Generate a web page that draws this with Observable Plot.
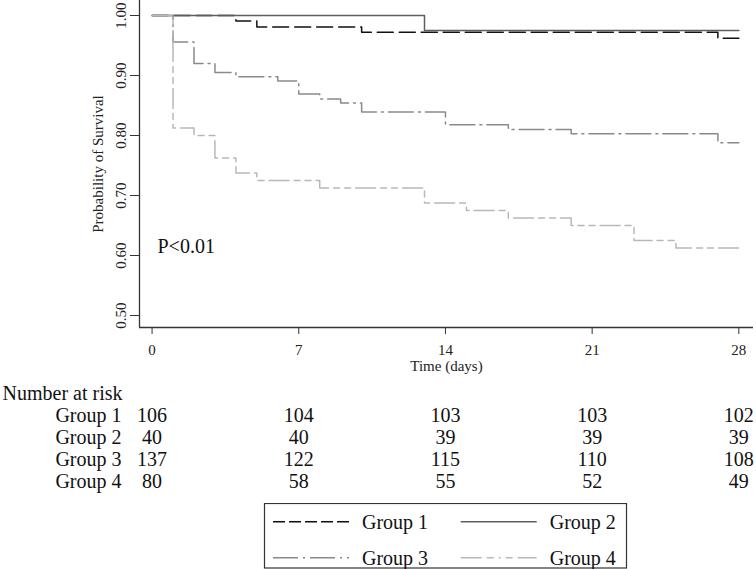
<!DOCTYPE html>
<html><head><meta charset="utf-8">
<script src="https://cdn.jsdelivr.net/npm/d3@7"></script>
<script src="https://cdn.jsdelivr.net/npm/@observablehq/plot@0.6"></script>
<style>
body{margin:0;background:#fff;}
#chart{width:756px;height:569px;overflow:hidden;background:#fff;}
#chart svg{display:block;}
</style></head><body><div id="chart"></div>
<script>
// ---- data ----
const groups = ["Group 1", "Group 2", "Group 3", "Group 4"];
const g1Time = [0, 4, 5, 10, 27, 28];
const g1Surv = [1.000, 0.991, 0.981, 0.972, 0.962, 0.962];
const g2Time = [0, 13, 28];
const g2Surv = [1.000, 0.975, 0.975];
const g3Time = [0, 1, 2, 3, 4, 6, 7, 8, 9, 10, 14, 17, 20, 27, 28];
const g3Surv = [1.000, 0.956, 0.920, 0.905, 0.898, 0.891, 0.869, 0.861, 0.854, 0.839, 0.818, 0.810, 0.803, 0.788, 0.788];
const g4Time = [0, 1, 2, 3, 4, 5, 8, 13, 15, 17, 20, 23, 25, 28];
const g4Surv = [1.000, 0.8125, 0.800, 0.7625, 0.7375, 0.725, 0.7125, 0.6875, 0.675, 0.6625, 0.650, 0.625, 0.6125, 0.6125];
const riskTimes = [0, 7, 14, 21, 28];
const risk1 = [106, 104, 103, 103, 102];
const risk2 = [40, 40, 39, 39, 39];
const risk3 = [137, 122, 115, 110, 108];
const risk4 = [80, 58, 55, 52, 49];
const xTicks = [0, 7, 14, 21, 28];
const yTicks = [0.5, 0.6, 0.7, 0.8, 0.9, 1.0];
const xTitle = "Time (days)";
const yTitle = "Probability of Survival";
const riskTitle = "Number at risk";
const pText = "P<0.01";

// ---- styles ----
const font = '"Liberation Serif","Times New Roman",serif';
const styles = {
  "Group 1": {stroke: "#111111", dash: "16,6", legendDash: "12,4"},
  "Group 2": {stroke: "#5e5e5e", dash: null, legendDash: null},
  "Group 3": {stroke: "#8a8a8a", dash: "25,5,2,5", legendDash: "25,5,2,5"},
  "Group 4": {stroke: "#b8b8b8", dash: "20,5,6,5,6,5", legendDash: "21,5,7,5,2,5,7,5"}
};
const times = [g1Time, g2Time, g3Time, g4Time];
const survs = [g1Surv, g2Surv, g3Surv, g4Surv];
const risks = [risk1, risk2, risk3, risk4];
const curveData = groups.map((g, i) => times[i].map((t, j) => ({group: g, time: t, surv: survs[i][j]})));
const riskData = groups.flatMap((g, i) => riskTimes.map((t, j) => ({group: g, time: t, n: risks[i][j]})));

const xDomain = [-0.6, 28.7];
const yDomain = [0.48, 1.025];
const W = 756, ML = 139, MR = 3;

const main = Plot.plot({
  width: W, height: 376,
  marginLeft: ML, marginRight: MR, marginTop: 0, marginBottom: 49,
  style: {fontFamily: font, fontSize: "15px", color: "#222", background: "white", overflow: "visible"},
  x: {domain: xDomain},
  y: {domain: yDomain},
  marks: [
    ...groups.map((g, i) => Plot.line(curveData[i], {
      x: "time", y: "surv", curve: "step-after",
      stroke: styles[g].stroke, strokeWidth: 1.5,
      strokeDasharray: styles[g].dash || undefined
    })),
    Plot.ruleX([xDomain[0]], {stroke: "#333", strokeWidth: 1.3}),
    Plot.ruleY([yDomain[0]], {stroke: "#333", strokeWidth: 1.3}),
    Plot.axisY({ticks: yTicks, tickFormat: d3.format(".2f"), tickRotate: -90, tickSize: 9, tickPadding: 5,
      label: null, stroke: "#333", fill: "#222", fontSize: 15}),
    Plot.axisX({ticks: xTicks, tickSize: 7, tickPadding: 10, label: null, stroke: "#333", fill: "#222", fontSize: 15}),
    Plot.text([xTitle], {frameAnchor: "bottom", dy: 43, lineAnchor: "bottom", fontSize: 15, fill: "#222"}),
    Plot.text([yTitle], {frameAnchor: "left", rotate: -90, dx: -37, lineAnchor: "bottom", textAnchor: "middle", fontSize: 15, fill: "#222"}),
    Plot.text([pText], {frameAnchor: "top-left", dx: 18, dy: 252, textAnchor: "start", lineAnchor: "bottom", fontSize: 20, fill: "#111"})
  ]
});

const rows = [riskTitle, ...groups];
const risk = Plot.plot({
  width: W, height: 127,
  marginLeft: ML, marginRight: MR, marginTop: 0, marginBottom: 0,
  style: {fontFamily: font, fontSize: "20px", color: "#111", background: "white", overflow: "visible"},
  x: {domain: xDomain, axis: null},
  y: {type: "point", domain: rows, range: [21.7, 112], padding: 0, axis: null},
  marks: [
    Plot.text([riskTitle], {y: d => d, frameAnchor: "left", dx: -137, textAnchor: "start", lineAnchor: "bottom", fontSize: 20, fill: "#111"}),
    Plot.text(groups, {y: d => d, frameAnchor: "left", dx: -18, textAnchor: "end", lineAnchor: "bottom", fontSize: 20, fill: "#111"}),
    Plot.text(riskData, {x: "time", y: "group", text: "n", textAnchor: "middle", lineAnchor: "bottom", fontSize: 20, fill: "#111"})
  ]
});

// legend
const legend = d3.create("svg").attr("width", W).attr("height", 66)
  .style("font-family", font).style("font-size", "20px");
legend.append("rect").attr("x", 264.5).attr("y", 0.5).attr("width", 362).attr("height", 64.5)
  .attr("fill", "none").attr("stroke", "#333").attr("stroke-width", 1.2);
const colX = [273, 460.7];
const rowY = [18.7, 54.7];
groups.forEach((g, i) => {
  const cx = colX[i % 2], cy = rowY[Math.floor(i / 2)];
  const ln = legend.append("line").attr("x1", cx).attr("x2", cx + 76).attr("y1", cy).attr("y2", cy)
    .attr("stroke", styles[g].stroke).attr("stroke-width", 1.6);
  if (styles[g].legendDash) ln.attr("stroke-dasharray", styles[g].legendDash);
  legend.append("text").attr("x", cx + 89).attr("y", cy + 7.4).attr("fill", "#111").text(g);
});

const root = document.getElementById("chart");
root.append(main, risk, legend.node());
</script>
</body></html>
